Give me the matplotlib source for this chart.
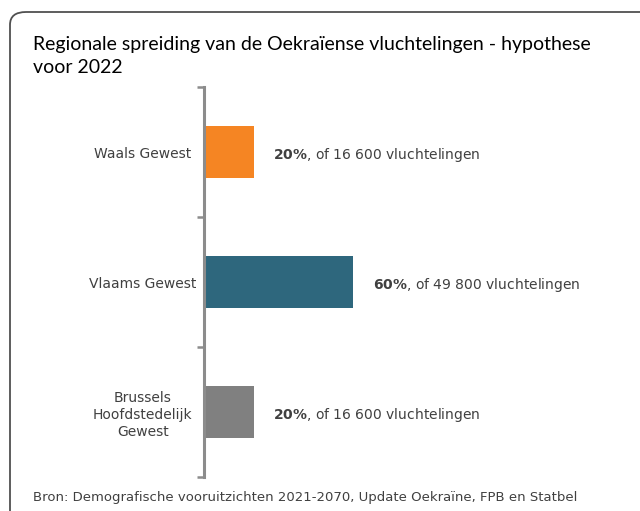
"""Regionale spreiding van de Oekraiense vluchtelingen - hypothese 2022."""
import matplotlib.pyplot as plt
from matplotlib.patches import FancyBboxPatch

regions = ["Waals Gewest", "Vlaams Gewest", "Brussels\nHoofdstedelijk\nGewest"]
shares = [20, 60, 20]
refugees = ["16 600", "49 800", "16 600"]
colors = ["#F58523", "#2E677D", "#808080"]

fig = plt.figure(figsize=(6.4, 5.11), dpi=100)

# rounded frame, runs off the right and bottom edges
frame = FancyBboxPatch((10 / 640, -0.1), 1.2, 1 - 12 / 511 + 0.1,
                       boxstyle="round,pad=0,rounding_size=0.025",
                       transform=fig.transFigure, facecolor="none",
                       edgecolor="#505050", lw=1.3, clip_on=False)
fig.patches.append(frame)

ax = fig.add_axes([204 / 640, 1 - 477 / 511, 249 / 640, 390 / 511])
ax.patch.set_alpha(0)
y = range(len(regions))
ax.barh(y, shares, height=0.4, color=colors)
ax.set_xlim(0, 100)
ax.set_ylim(2.5, -0.5)

for s in ["top", "right", "bottom"]:
    ax.spines[s].set_visible(False)
ax.spines["left"].set_color("#8C8C8C")
ax.spines["left"].set_linewidth(2.2)
ax.set_xticks([])

ax.set_yticks([-0.5, 0.5, 1.5, 2.5])
ax.set_yticklabels([])
ax.tick_params(axis="y", which="major", length=5, width=1.8, color="#8C8C8C")
ax.set_yticks(list(y), minor=True)
ax.set_yticklabels(regions, minor=True, fontsize=10, color="#404040",
                   family="DejaVu Sans", ha="center", linespacing=1.3)
ax.tick_params(axis="y", which="minor", length=0, pad=44)

for i, (s, n) in enumerate(zip(shares, refugees)):
    ax.annotate(f"$\\bf{{{s}\\%}}$, of {n} vluchtelingen", (s, i),
                xytext=(14, -2.5), textcoords="offset points", va="center",
                fontsize=10, color="#404040", family="DejaVu Sans")

fig.text(33 / 640, 1 - 56 / 511,
         "Regionale spreiding van de Oekraïense vluchtelingen - hypothese\nvoor 2022",
         fontsize=14, family="Lato", va="center", linespacing=1.45)
fig.text(33 / 640, 1 - 497 / 511,
         "Bron: Demografische vooruitzichten 2021-2070, Update Oekraïne, FPB en Statbel",
         fontsize=9.5, family="DejaVu Sans", color="#404040", va="center")

fig.savefig("out.png", dpi=100)
